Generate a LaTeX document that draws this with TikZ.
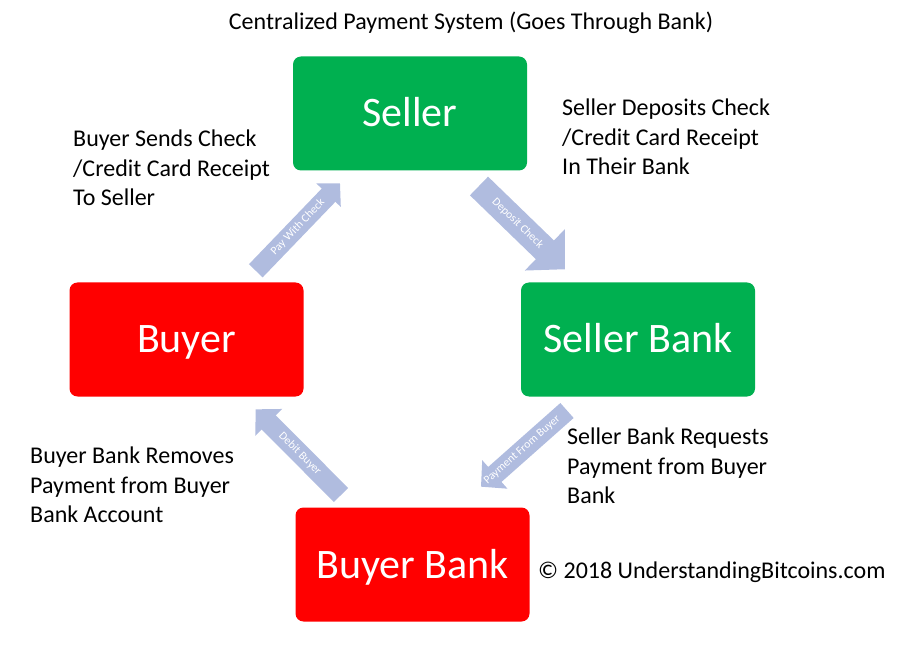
\documentclass[tikz,border=0pt]{standalone}
\usepackage{fontspec}
\setmainfont{Carlito}
\usetikzlibrary{arrows.meta}
\usetikzlibrary{calc}
\definecolor{boxgreen}{RGB}{0,176,80}
\definecolor{boxred}{RGB}{255,0,0}
\definecolor{flowblue}{RGB}{176,188,223}

\begin{document}
\begin{tikzpicture} [
    x=1pt, y=-1pt,
    party/.style = {rectangle, rounded corners=8pt, minimum width=234pt, minimum height=114pt,
        text=white, font=\fontsize{42}{50}\selectfont, text height=27pt, text depth=0pt},
    note/.style = {anchor=west, align=left, inner sep=0pt, font=\fontsize{24}{29.3}\selectfont},
    flow/.style = {draw=flowblue, line width=20pt, -{Triangle[width=37pt, length=18.5pt]}},
    flowlabel/.style = {sloped, text=white, inner sep=0pt, font=\fontsize{11.5}{13}\selectfont}
]
    \useasboundingbox (0,0) rectangle (900,652);

    \node [anchor=center, inner sep=0pt, font=\fontsize{24}{29.3}\selectfont, text height=15.5pt, text depth=0pt]
        (title) at (471,22) {Centralized Payment System (Goes Through Bank)};

    \node [party, fill=boxgreen] (seller) at (410,113.5) {Seller};
    \node [party, fill=boxred] (buyer) at (186.5,339.5) {Buyer};
    \node [party, fill=boxgreen] (sellerbank) at (638,339.5) {Seller Bank};
    \node [party, fill=boxred] (buyerbank) at (412.5,564.5) {Buyer Bank};

    \node [note] (sendnote) at (73,168) {Buyer Sends Check\\/Credit Card Receipt\\To Seller};
    \node [note] (depositnote) at (562,137) {Seller Deposits Check\\/Credit Card Receipt\\In Their Bank};
    \node [note] (requestnote) at (567,466) {Seller Bank Requests\\Payment from Buyer\\Bank};
    \node [note] (removenote) at (30,485) {Buyer Bank Removes\\Payment from Buyer\\Bank Account};
    \node [note] (copyright) at (538,572) {© 2018 UnderstandingBitcoins.com};

    \draw [flow, line width=19pt, -{Triangle[width=33pt, length=16.5pt]}]
        ($(buyer)+(69.3,-68.7)$) -- node [flowlabel] {Pay With Check} ($(seller)+(-70,69.8)$);
    \draw [flow, line width=26pt, -{Triangle[width=56pt, length=28pt]}]
        ($(seller)+(69,72.5)$) -- node [flowlabel, pos=0.45] {Deposit Check} ($(sellerbank)+(-73,-70.2)$);
    \draw [flow]
        ($(sellerbank)+(-71,71)$) -- node [flowlabel, pos=0.52] {Payment From Buyer} ($(buyerbank)+(68.5,-77.8)$);
    \draw [flow]
        ($(buyerbank)+(-71.5,-69.5)$) -- node [flowlabel, pos=0.48] {Debit Buyer} ($(buyer)+(69.2,69.8)$);
\end{tikzpicture}
\end{document}
